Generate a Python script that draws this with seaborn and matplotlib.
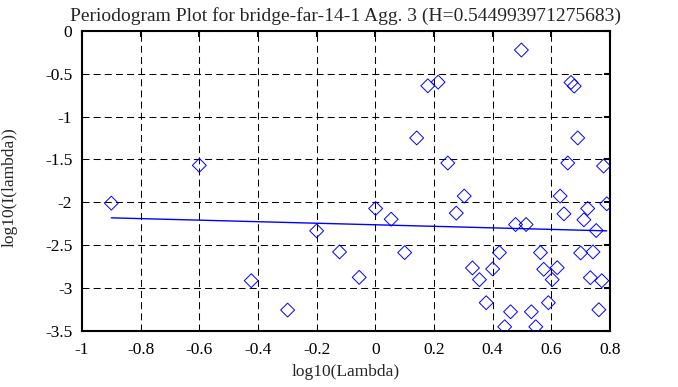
import matplotlib
matplotlib.use("Agg")
import matplotlib.pyplot as plt
import seaborn as sns
import pandas as pd

# data
log_lambda = [-0.900, -0.600, -0.423, -0.299, -0.200, -0.122, -0.055, 0.001, 0.054, 0.100,
              0.141, 0.179, 0.214, 0.247, 0.276, 0.303, 0.331, 0.355, 0.378, 0.400,
              0.423, 0.441, 0.461, 0.478, 0.498, 0.514, 0.532, 0.547, 0.563, 0.574,
              0.590, 0.603, 0.620, 0.630, 0.643, 0.656, 0.667, 0.678, 0.690, 0.700,
              0.711, 0.724, 0.733, 0.742, 0.753, 0.762, 0.772, 0.778, 0.789]
log_I = [-2.010, -1.569, -2.916, -3.259, -2.334, -2.580, -2.877, -2.073, -2.198, -2.588,
         -1.249, -0.640, -0.597, -1.542, -2.127, -1.928, -2.767, -2.904, -3.173, -2.779,
         -2.588, -3.454, -3.279, -2.260, -0.222, -2.260, -3.279, -3.454, -2.588, -2.783,
         -3.173, -2.904, -2.764, -1.928, -2.135, -1.542, -0.601, -0.644, -1.249, -2.592,
         -2.205, -2.073, -2.881, -2.580, -2.330, -3.255, -2.916, -1.577, -2.018]
fit_x = [-0.900, 0.789]
fit_y = [-2.182, -2.334]

title = "Periodogram Plot for bridge-far-14-1 Agg. 3 (H=0.544993971275683)"
xlabel = "log10(Lambda)"
ylabel = "log10(I(lambda))"
xticks = [-1, -0.8, -0.6, -0.4, -0.2, 0, 0.2, 0.4, 0.6, 0.8]
xticklabels = ["-1", "-0.8", "-0.6", "-0.4", "-0.2", "0", "0.2", "0.4", "0.6", "0.8"]
yticks = [0, -0.5, -1, -1.5, -2, -2.5, -3, -3.5]
yticklabels = ["0", "-0.5", "-1", "-1.5", "-2", "-2.5", "-3", "-3.5"]

sns.set_style("white")
plt.rcParams["font.family"] = ["Liberation Serif", "DejaVu Serif"]

df = pd.DataFrame({"x": log_lambda, "y": log_I})
fit = pd.DataFrame({"x": fit_x, "y": fit_y})

fig = plt.figure(figsize=(6.78, 3.87), dpi=100)
ax = fig.add_axes([82/678, 1-330.7/387, (610-82)/678, (330.7-31)/387])

sns.lineplot(data=fit, x="x", y="y", ax=ax, color="#0000ff", linewidth=1.0, zorder=3)
sns.scatterplot(data=df, x="x", y="y", ax=ax, marker="D", s=50,
                facecolors="none", edgecolor="#0000ff", linewidth=0.7, zorder=4)

ax.set_xlim(-1, 0.8)
ax.set_ylim(-3.5, 0)
ax.set_xticks(xticks)
ax.set_xticklabels(xticklabels)
ax.set_yticks(yticks)
ax.set_yticklabels(yticklabels)
ax.grid(True, color="black", linestyle=(0, (6.7, 4)), linewidth=0.75)
ax.set_axisbelow(True)
for sp in ax.spines.values():
    sp.set_visible(True)
    sp.set_color("black")
    sp.set_linewidth(1.5)
ax.tick_params(direction="in", length=4.5, width=1.5, top=True, right=True,
               labelsize=12.5, colors="black", pad=7)
ax.tick_params(axis="x", pad=8)
ax.set_xlabel(xlabel, fontsize=12.5)
ax.set_ylabel(ylabel, fontsize=12.5)
ax.xaxis.set_label_coords(0.5, -0.112)
ax.yaxis.set_label_coords(-0.122, 0.48)
ax.set_title(title, fontsize=14, pad=7)

fig.savefig("out.png", dpi=100)
